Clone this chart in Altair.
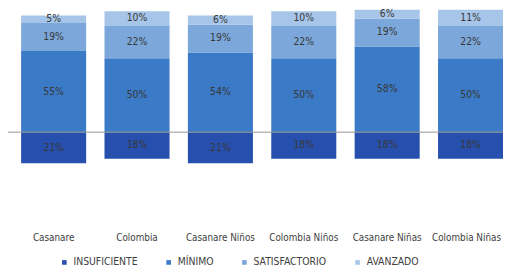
import altair as alt
import pandas as pd

categories = ["Casanare", "Colombia", "Casanare Niños", "Colombia Niños", "Casanare Niñas", "Colombia Niñas"]
levels = ["INSUFICIENTE", "MÍNIMO", "SATISFACTORIO", "AVANZADO"]
insuficiente = [21, 18, 21, 18, 18, 18]
minimo = [55, 50, 54, 50, 58, 50]
satisfactorio = [19, 22, 19, 22, 19, 22]
avanzado = [5, 10, 6, 10, 6, 11]
colors = ["#2750AE", "#3B7AC6", "#7BA7DA", "#A7C5E8"]

FONT = "Liberation Sans Narrow, DejaVu Sans Condensed, Arial Narrow, sans-serif"

rows = []
for i, cat in enumerate(categories):
    rows.append(dict(cat=cat, level="INSUFICIENTE", val=insuficiente[i], y=-insuficiente[i], y2=0, order=0))
    base = 0
    for k, (lvl, arr) in enumerate([("MÍNIMO", minimo), ("SATISFACTORIO", satisfactorio), ("AVANZADO", avanzado)]):
        rows.append(dict(cat=cat, level=lvl, val=arr[i], y=base, y2=base + arr[i], order=k + 1))
        base += arr[i]
df = pd.DataFrame(rows)
df["mid"] = (df["y"] + df["y2"]) / 2
df["label"] = df["val"].astype(str) + "%"

xscale = alt.Scale(domain=categories, range=[4.0, 512.4], paddingInner=0.22, paddingOuter=0.11)
yscale = alt.Scale(domain=[-64, 82.67], nice=False, zero=False)

x = alt.X("cat:N", scale=xscale, sort=categories, title=None,
          axis=alt.Axis(labelAngle=0, domain=False, ticks=False, labelPadding=6,
                        labelFontSize=10, labelColor="#404040", labelFont=FONT,
                        labelOffset=alt.ExprRef(expr="datum.value == 'Colombia Niñas' ? -5 : 0"))) if False else alt.X(
    "cat:N", scale=xscale, sort=categories, title=None,
    axis=alt.Axis(labelAngle=0, domain=False, ticks=False, labelPadding=6,
                  labelFontSize=10, labelColor="#404040", labelFont=FONT,
                  labelAlign=alt.ExprRef(expr="datum.value == 'Colombia Niñas' ? 'right' : 'center'"),
                  labelOffset=alt.ExprRef(expr="datum.value == 'Colombia Niñas' ? 31 : 0")))

bars = alt.Chart(df).mark_bar().encode(
    x=x,
    y=alt.Y("y:Q", scale=yscale, axis=None),
    y2="y2:Q",
    color=alt.Color("level:N", scale=alt.Scale(domain=levels, range=colors), sort=levels,
                    legend=alt.Legend(title=None, orient="none", direction="horizontal",
                                      legendX=52, legendY=251, symbolType="square",
                                      symbolSize=22, labelFontSize=10.5, labelFont=FONT,
                                      labelColor="#404040", columnPadding=26, symbolStrokeWidth=0)),
)

zero = alt.Chart(pd.DataFrame({"z": [0]})).mark_rule(color="#9a948c", strokeWidth=1).encode(
    y=alt.Y("z:Q", scale=yscale, axis=None),
    x=alt.value(-8), x2=alt.value(503),
)

texts = alt.Chart(df).mark_text(fontSize=10.5, font=FONT, color="#383838").encode(
    x=alt.X("cat:N", scale=xscale, sort=categories, title=None),
    y=alt.Y("mid:Q", scale=yscale, axis=None),
    text="label:N",
)

chart = alt.layer(bars, zero, texts).properties(
    width=503, height=220,
    autosize=alt.AutoSizeParams(type="none"),
    padding={"left": 0, "top": 0, "right": 0, "bottom": 49},
    background="white",
).configure_view(stroke=None, strokeWidth=0)

chart.save("out.html", embed_options={"renderer": "svg", "actions": False})
